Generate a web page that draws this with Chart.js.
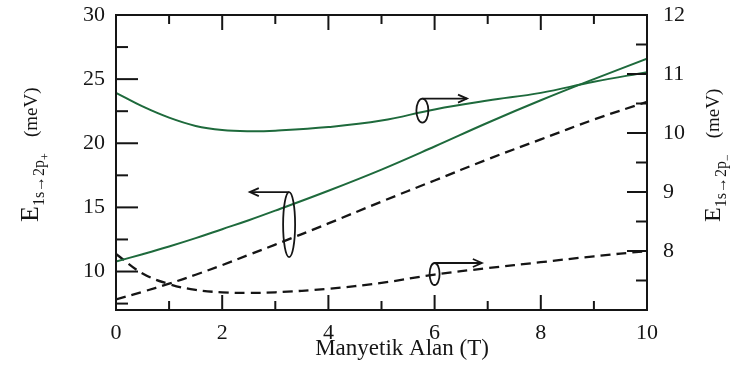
<!DOCTYPE html>
<html>
<head>
<meta charset="utf-8">
<script src="https://cdn.jsdelivr.net/npm/chart.js@4.4.1/dist/chart.umd.min.js"></script>
<style>
html,body{margin:0;padding:0;background:#fff;}
canvas{display:block;}
</style>
</head>
<body>
<canvas id="mycanvas" width="743" height="373"></canvas>
<script>
// magnetic field (T)
var field       = [0, 0.5, 1, 1.5, 2, 2.5, 3, 4, 5, 6, 7, 8, 9, 10];
// E(1s->2p+) , left axis
var solidLeft   = [10.78, 11.35, 11.95, 12.6, 13.3, 14.0, 14.75, 16.3, 17.95, 19.75, 21.6, 23.35, 25.0, 26.6];
var dashedLeft  = [7.82, 8.42, 9.05, 9.75, 10.5, 11.3, 12.1, 13.75, 15.45, 17.1, 18.75, 20.3, 21.85, 23.23];
// E(1s->2p-) , right axis
var solidRight  = [10.68, 10.45, 10.26, 10.12, 10.05, 10.03, 10.04, 10.10, 10.21, 10.40, 10.55, 10.68, 10.87, 11.03];
var dashedRight = [7.95, 7.62, 7.44, 7.34, 7.30, 7.29, 7.30, 7.36, 7.46, 7.60, 7.71, 7.81, 7.91, 8.0];

var xTickLabels     = [0, 2, 4, 6, 8, 10];
var xMinorTicks     = [1, 3, 5, 7, 9];
var leftTickLabels  = [10, 15, 20, 25, 30];
var leftMinorTicks  = [7.5, 12.5, 17.5, 22.5, 27.5];
var rightTickLabels = [8, 9, 10, 11, 12];
var rightMinorTicks = [7.5, 8.5, 9.5, 10.5, 11.5];

var serif = "'Liberation Serif', 'Times New Roman', serif";
var green = '#1e6a3c';
var ink = '#151515';

function pts(ys){
	return field.map(function(x, i){ return {x: x, y: ys[i]}; });
}

// ellipse + arrow markers telling which axis a pair of curves belongs to
var markers = [
	{x: 5.77, y: 10.38, axis: 'yR', rx: 6, ry: 12,   to: 6.61},
	{x: 3.26, y: 13.66, axis: 'yL', rx: 6, ry: 32.5, to: 2.52},
	{x: 6.0,  y: 7.61,  axis: 'yR', rx: 5, ry: 11,   to: 6.89}
];

function drawRun(ctx, parts){
	var pos = 0;
	parts.forEach(function(p){
		ctx.font = p.size + 'px ' + serif;
		ctx.fillText(p.t, pos, p.dy || 0);
		pos += ctx.measureText(p.t).width + (p.gap || 0);
	});
}

var decor = {
	id: 'decor',
	afterDraw: function(chart){
		var ctx = chart.ctx, a = chart.chartArea;
		var sx = chart.scales.x, yl = chart.scales.yL, yr = chart.scales.yR;
		ctx.save();
		ctx.strokeStyle = ink;
		ctx.fillStyle = ink;
		ctx.lineWidth = 2;
		ctx.lineCap = 'butt';

		function line(x1, y1, x2, y2){
			ctx.beginPath(); ctx.moveTo(x1, y1); ctx.lineTo(x2, y2); ctx.stroke();
		}
		// inward ticks
		xTickLabels.forEach(function(v){
			var px = sx.getPixelForValue(v);
			line(px, a.bottom, px, a.bottom - 15);
			line(px, a.top, px, a.top + 15);
		});
		xMinorTicks.forEach(function(v){
			var px = sx.getPixelForValue(v);
			line(px, a.bottom, px, a.bottom - 9);
			line(px, a.top, px, a.top + 9);
		});
		leftTickLabels.forEach(function(v){
			var py = yl.getPixelForValue(v);
			line(a.left, py, a.left + 22, py);
		});
		leftMinorTicks.forEach(function(v){
			var py = yl.getPixelForValue(v);
			line(a.left, py, a.left + 12, py);
		});
		rightTickLabels.forEach(function(v){
			var py = yr.getPixelForValue(v);
			line(a.right, py, a.right - 20, py);
		});
		rightMinorTicks.forEach(function(v){
			var py = yr.getPixelForValue(v);
			line(a.right, py, a.right - 11, py);
		});
		ctx.strokeRect(a.left, a.top, a.right - a.left, a.bottom - a.top);

		// ellipses with arrows
		ctx.lineWidth = 1.8;
		markers.forEach(function(m){
			var ys = chart.scales[m.axis];
			var cx = sx.getPixelForValue(m.x), cy = ys.getPixelForValue(m.y);
			var tx = sx.getPixelForValue(m.to), ty = cy - m.ry;
			ctx.beginPath();
			ctx.ellipse(cx, cy, m.rx, m.ry, 0, 0, Math.PI * 2);
			ctx.stroke();
			line(cx, ty, tx, ty);
			var d = tx > cx ? -1 : 1;
			ctx.beginPath();
			ctx.moveTo(tx + d * 9, ty - 4);
			ctx.lineTo(tx, ty);
			ctx.lineTo(tx + d * 9, ty + 4);
			ctx.stroke();
		});

		// axis titles
		ctx.textAlign = 'center';
		ctx.textBaseline = 'alphabetic';
		ctx.font = '23px ' + serif;
		ctx.fillText('Manyetik Alan (T)', 402, 355);

		ctx.textAlign = 'left';
		ctx.save();
		ctx.translate(38, 222);
		ctx.rotate(-Math.PI / 2);
		drawRun(ctx, [
			{t: 'E', size: 26},
			{t: '1s\u21922p', size: 16, dy: 6},
			{t: '+', size: 12, dy: 11, gap: 16},
			{t: '(meV)', size: 19, dy: -1}
		]);
		ctx.restore();

		ctx.save();
		ctx.translate(720, 222);
		ctx.rotate(-Math.PI / 2);
		drawRun(ctx, [
			{t: 'E', size: 24},
			{t: '1s\u21922p', size: 16, dy: 6},
			{t: '\u2212', size: 12, dy: 11, gap: 16},
			{t: '(meV)', size: 19, dy: -1}
		]);
		ctx.restore();
		ctx.restore();
	}
};

function fixedTicks(list){
	return function(s){ s.ticks = list.map(function(v){ return {value: v}; }); };
}

var ctx = document.getElementById('mycanvas');
var chart = new Chart(ctx, {
	type: 'line',
	data: {
		datasets: [
			{data: pts(solidLeft), yAxisID: 'yL', borderColor: green, borderWidth: 2},
			{data: pts(dashedLeft), yAxisID: 'yL', borderColor: ink, borderWidth: 2.3, borderDash: [10, 6]},
			{data: pts(solidRight), yAxisID: 'yR', borderColor: green, borderWidth: 2},
			{data: pts(dashedRight), yAxisID: 'yR', borderColor: ink, borderWidth: 2.3, borderDash: [10, 6]}
		]
	},
	options: {
		responsive: false,
		animation: false,
		devicePixelRatio: 1,
		layout: {padding: {top: 15, left: 0, right: 0, bottom: 0}},
		elements: {
			point: {radius: 0},
			line: {tension: 0.4, fill: false}
		},
		plugins: {legend: {display: false}, tooltip: {enabled: false}},
		scales: {
			x: {
				type: 'linear', position: 'bottom', min: 0, max: 10,
				grid: {display: false, drawTicks: false},
				border: {display: false},
				ticks: {font: {family: serif, size: 22}, color: ink, padding: 10, maxRotation: 0, autoSkip: false},
				afterBuildTicks: fixedTicks(xTickLabels),
				afterFit: function(s){ s.height = 63; s.paddingLeft = 0; s.paddingRight = 0; }
			},
			yL: {
				type: 'linear', position: 'left', min: 7, max: 30,
				grid: {display: false, drawTicks: false},
				border: {display: false},
				ticks: {font: {family: serif, size: 22}, color: ink, padding: 11},
				afterBuildTicks: fixedTicks(leftTickLabels),
				afterFit: function(s){ s.width = 116; s.paddingTop = 0; s.paddingBottom = 0; }
			},
			yR: {
				type: 'linear', position: 'right', min: 7, max: 12,
				grid: {display: false, drawTicks: false},
				border: {display: false},
				ticks: {font: {family: serif, size: 22}, color: ink, padding: 16},
				afterBuildTicks: fixedTicks(rightTickLabels),
				afterFit: function(s){ s.width = 96; s.paddingTop = 0; s.paddingBottom = 0; }
			}
		}
	},
	plugins: [decor]
});
</script>
</body>
</html>
